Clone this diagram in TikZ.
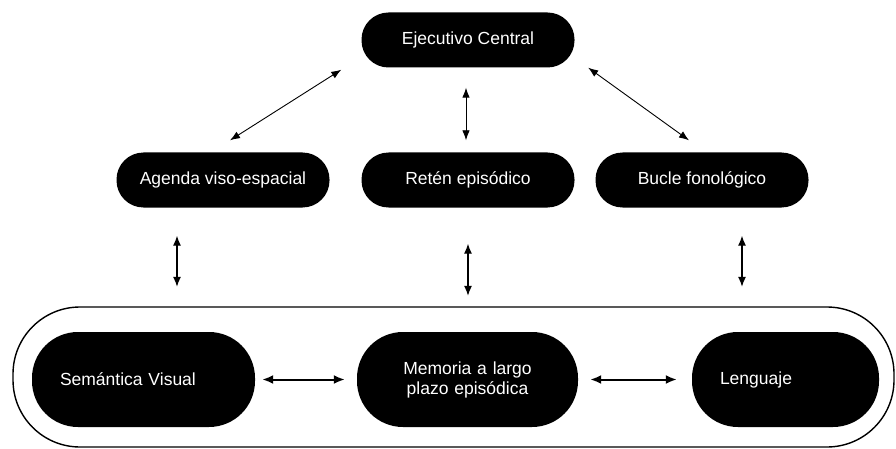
\documentclass[tikz,border=0pt]{standalone}
\usepackage{fontspec}
\setmainfont{Liberation Sans}
\usetikzlibrary{arrows.meta, positioning}

\tikzset{
    topbox/.style={fill=black, text=white, rounded corners=27pt,
        minimum width=213pt, minimum height=55pt,
        font=\fontsize{17.5}{20}\selectfont},
    lowbox/.style={fill=black, text=white, rounded corners=46pt,
        minimum height=95pt, inner xsep=28pt, align=left,
        font=\fontsize{17.5}{20}\selectfont},
    frame/.style={draw, line width=1.4pt, rounded corners=67pt,
        minimum width=881pt, minimum height=140pt},
    thinarrow/.style={{Latex[length=10pt,width=7.5pt]}-{Latex[length=10pt,width=7.5pt]}, line width=0.9pt},
    midarrow/.style={{Latex[length=10pt,width=8pt]}-{Latex[length=10pt,width=8pt]}, line width=1.2pt},
    widearrow/.style={{Latex[length=11pt,width=9pt]}-{Latex[length=11pt,width=9pt]}, line width=2pt}
}

\begin{document}
\begin{tikzpicture}[x=1pt, y=-1pt]
            \useasboundingbox (0,0) rectangle (896,449);
            % upper part
            \node[topbox] (ejecutivo) at (468,40) {Ejecutivo Central};
            \node[topbox] (agenda) at (223,180) {Agenda viso-espacial};
            \node[topbox] (reten) at (468,180) {Retén episódico};
            \node[topbox] (bucle) at (702,180) {Bucle fonológico};
            % long-term part
            \node[frame] (marco) at (453.5,377) {};
            \node[lowbox, text width=167pt] (semantica) at (143.5,379.5) {Semántica Visual};
            \node[lowbox, text width=165pt, align=center] (memoria) at (467.5,379.5) {Memoria a largo\\plazo episódica};
            \node[lowbox, text width=131pt] (lenguaje) at (785.5,379.5) {Lenguaje};
            % connectors
            \draw[thinarrow] ([xshift=-20pt,yshift=-2pt]ejecutivo.south west) -- ([xshift=7pt,yshift=12pt]agenda.north);
            \draw[thinarrow] ([xshift=-2pt,yshift=-20pt]ejecutivo.south) -- ([xshift=-2pt,yshift=12pt]reten.north);
            \draw[thinarrow] ([xshift=13.5pt]ejecutivo.south east) -- ([xshift=-13pt,yshift=12pt]bucle.north);
            \draw[midarrow] ([xshift=-46pt,yshift=-28pt]agenda.south) -- ([xshift=33.5pt,yshift=45pt]semantica.north);
            \draw[midarrow] ([yshift=-36pt]reten.south) -- ([xshift=0.5pt,yshift=36pt]memoria.north);
            \draw[midarrow] ([xshift=40pt,yshift=-28pt]bucle.south) -- ([xshift=-43.5pt,yshift=45pt]lenguaje.north);
            \draw[widearrow] ([xshift=7pt]semantica.east) -- ([xshift=-12pt]memoria.west);
            \draw[widearrow] ([xshift=12pt]memoria.east) -- ([xshift=-15pt]lenguaje.west);
        \end{tikzpicture}
\end{document}
